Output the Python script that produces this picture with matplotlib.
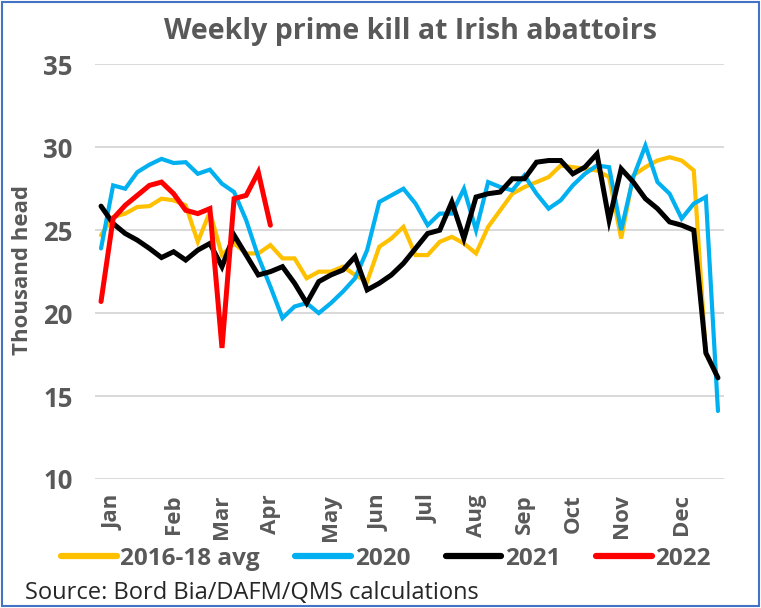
import matplotlib

matplotlib.use("Agg")

import matplotlib.pyplot as plt
from matplotlib.patches import Rectangle

# weekly kill, thousand head
avg_2016_18 = [
    24.7, 25.8, 26.0, 26.4, 26.45, 26.9, 26.8, 26.5, 24.3, 26.1,
    23.5, 24.2, 23.6, 23.6, 24.1, 23.3, 23.3, 22.1, 22.5, 22.5,
    22.8, 22.3, 21.9, 24.0, 24.5, 25.2, 23.5, 23.5, 24.3, 24.6,
    24.2, 23.6, 25.2, 26.2, 27.2, 27.6, 27.9, 28.2, 28.9, 28.8,
    28.7, 28.6, 28.2, 24.5, 28.3, 28.8, 29.2, 29.4, 29.2, 28.6,
    17.5,
]
kill_2020 = [
    23.9, 27.7, 27.5, 28.5, 28.95, 29.3, 29.05, 29.1, 28.4, 28.65,
    27.8, 27.3, 25.6, 23.4, 21.6, 19.7, 20.4, 20.6, 20.0, 20.6,
    21.3, 22.1, 23.8, 26.7, 27.1, 27.5, 26.6, 25.3, 26.0, 26.0,
    27.5, 25.0, 27.9, 27.6, 27.4, 28.3, 27.2, 26.3, 26.8, 27.7,
    28.4, 28.9, 28.8, 25.0, 28.2, 30.1, 27.9, 27.2, 25.7, 26.6,
    27.0, 14.1,
]
kill_2021 = [
    26.45, 25.4, 24.8, 24.4, 23.9, 23.35, 23.7, 23.2, 23.8, 24.2,
    22.8, 24.7, 23.5, 22.3, 22.5, 22.8, 21.8, 20.6, 21.9, 22.3,
    22.6, 23.4, 21.4, 21.8, 22.3, 23.0, 23.9, 24.8, 25.0, 26.7,
    24.5, 27.0, 27.2, 27.3, 28.1, 28.1, 29.1, 29.2, 29.2, 28.4,
    28.8, 29.6, 25.6, 28.7, 27.9, 26.9, 26.3, 25.5, 25.3, 25.0,
    17.6, 16.1,
]
kill_2022 = [
    20.7, 25.7, 26.5, 27.1, 27.7, 27.9, 27.2, 26.2, 26.0, 26.3,
    17.9, 26.9, 27.1, 28.5, 25.3,
]

month_labels = ["Jan", "Feb", "Mar", "Apr", "May", "Jun",
                "Jul", "Aug", "Sep", "Oct", "Nov", "Dec"]
month_weeks = [1, 6, 10, 14, 19, 23, 27, 31, 35, 39, 43, 48]
y_ticks = [10, 15, 20, 25, 30, 35]

series = [
    ("2016-18 avg", avg_2016_18, "#FFC000", 3.0),
    ("2020", kill_2020, "#00B0F0", 3.0),
    ("2021", kill_2021, "#000000", 3.6),
    ("2022", kill_2022, "#FF0000", 3.6),
]

GREY = "#595959"
FONT = ["Open Sans", "DejaVu Sans"]
plt.rcParams["font.family"] = FONT
plt.rcParams["font.weight"] = "bold"

fig = plt.figure(figsize=(7.61, 6.08), dpi=100)
ax = fig.add_axes([0.1248, 0.2122, 0.8266, 0.682])

for name, values, colour, width in series:
    ax.plot(range(len(values)), values, color=colour, linewidth=width,
            label=name, solid_joinstyle="miter", solid_capstyle="round")

ax.set_ylim(10, 35)
ax.set_xlim(-0.5, 51.5)
ax.set_yticks(y_ticks)
ax.set_yticklabels([str(v) for v in y_ticks], fontweight="bold")
ax.set_xticks(month_weeks)
ax.set_xticklabels(month_labels, rotation=90, fontweight="bold")
ax.grid(axis="y", color="#D9D9D9", linewidth=1.4)
ax.set_axisbelow(True)
for spine in ax.spines.values():
    spine.set_visible(False)
ax.tick_params(axis="both", length=0, colors=GREY)
ax.tick_params(axis="y", labelsize=18.5, pad=16)
ax.tick_params(axis="x", labelsize=16, pad=11)

fig.text(0.029, 0.556, "Thousand head", rotation=90, ha="center", va="center",
         fontsize=16, fontweight="bold", color=GREY)
fig.text(0.54, 0.948, "Weekly prime kill at Irish abattoirs", ha="center",
         va="center", fontsize=20.5, fontweight="bold", color=GREY)

legend = fig.legend(loc="center", bbox_to_anchor=(0.507, 0.081), ncol=4,
                    frameon=False, handlelength=2.3, handletextpad=0.15,
                    columnspacing=1.45, prop={"family": FONT, "weight": "bold", "size": 17.5})
for text in legend.get_texts():
    text.set_color(GREY)
for handle in legend.get_lines():
    handle.set_linewidth(4.5)

fig.text(0.033, 0.025, "Source: Bord Bia/DAFM/QMS calculations", ha="left",
         va="center", fontsize=17, fontweight="normal", color="#262626")

fig.patches.append(Rectangle((0.002, 0.003), 0.995, 0.994, transform=fig.transFigure,
                             fill=False, edgecolor="#4472C4", linewidth=1.5))

fig.savefig("out.png", dpi=100)
